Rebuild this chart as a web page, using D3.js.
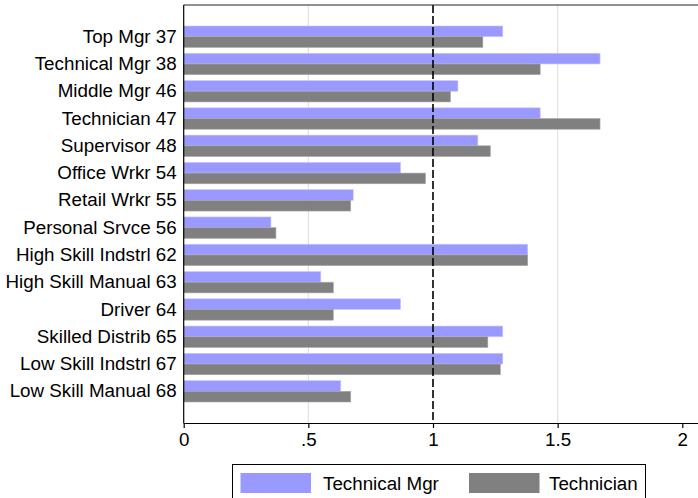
<!DOCTYPE html>
<html>
<head>
<meta charset="utf-8">
<script src="https://cdn.jsdelivr.net/npm/d3@7"></script>
<style>
  html, body { margin: 0; padding: 0; background: #fff; }
  svg { display: block; font-family: "Liberation Sans", Arial, Helvetica, sans-serif; }
</style>
</head>
<body>
<svg id="chart" width="698" height="498"></svg>
<script>
const categories = ["Top Mgr 37","Technical Mgr 38","Middle Mgr 46","Technician 47","Supervisor 48",
  "Office Wrkr 54","Retail Wrkr 55","Personal Srvce 56","High Skill Indstrl 62","High Skill Manual 63",
  "Driver 64","Skilled Distrib 65","Low Skill Indstrl 67","Low Skill Manual 68"];
const seriesNames = ["Technical Mgr", "Technician"];
const technicalMgr = [1.28, 1.67, 1.10, 1.43, 1.18, 0.87, 0.68, 0.35, 1.38, 0.55, 0.87, 1.28, 1.28, 0.63];
const technician   = [1.20, 1.43, 1.07, 1.67, 1.23, 0.97, 0.67, 0.37, 1.38, 0.60, 0.60, 1.22, 1.27, 0.67];
const xTicks = [0, 0.5, 1, 1.5, 2];
const xTickLabels = ["0", ".5", "1", "1.5", "2"];
const gridValues = [0.5, 1.5];
const refValue = 1;
const colors = ["#9999ff", "#808080"];

(function () {
const svg = d3.select("#chart");
const pLeft = 183.7, pRight = 698, pTop = 5, pBottom = 423;
const fs = 18.8;
const x = d3.scaleLinear().domain([0, 1]).range([pLeft, pLeft + 249.3]);
const y = d3.scaleBand().domain(categories).range([pTop, pBottom]).paddingInner(0.216).paddingOuter(0.77);
const ySub = d3.scaleBand().domain(seriesNames).range([0, y.bandwidth()]);

// grid lines
svg.append("g").selectAll("line").data(gridValues).join("line")
  .attr("x1", d => x(d)).attr("x2", d => x(d))
  .attr("y1", pTop).attr("y2", pBottom)
  .attr("stroke", "#e1e1e1").attr("stroke-width", 1.2);

// bars
const data = categories.map((c, i) => ({cat: c, vals: [technicalMgr[i], technician[i]]}));
const g = svg.append("g");
data.forEach(d => {
  seriesNames.forEach((s, j) => {
    g.append("rect")
      .attr("x", x(0))
      .attr("y", y(d.cat) + ySub(s))
      .attr("width", x(d.vals[j]) - x(0))
      .attr("height", ySub.bandwidth())
      .attr("fill", colors[j])
      .attr("stroke", j === 0 ? "#c8c8ff" : "#a8a8a8")
      .attr("stroke-width", 0.6);
  });
});

// reference line
svg.append("line")
  .attr("x1", x(refValue)).attr("x2", x(refValue))
  .attr("y1", pTop).attr("y2", pBottom)
  .attr("stroke", "#000").attr("stroke-width", 1.6)
  .attr("stroke-dasharray", "8,3");

// top border
svg.append("line").attr("x1", pLeft).attr("x2", pRight).attr("y1", pTop).attr("y2", pTop)
  .attr("stroke", "#222").attr("stroke-width", 1.2);

// x axis
const xAxis = d3.axisBottom(x).tickValues(xTicks).tickFormat((d, i) => xTickLabels[i]).tickSize(5).tickSizeOuter(0);
const xg = svg.append("g").attr("transform", `translate(0,${pBottom})`).call(xAxis);
xg.select(".domain").attr("d", `M${pLeft},0.5H${pRight}`).attr("stroke", "#000").attr("stroke-width", 1.2);
xg.selectAll(".tick line").attr("stroke", "#000").attr("stroke-width", 1.2);
xg.selectAll(".tick text").attr("font-size", fs).attr("fill", "#000").attr("dy", "0.78em")
  .style("font-family", "'Liberation Sans', Arial, sans-serif");

// y axis
const yAxis = d3.axisLeft(y).tickSize(0).tickPadding(7);
const yg = svg.append("g").attr("transform", `translate(${pLeft},0)`).call(yAxis);
yg.select(".domain").attr("d", `M0,${pTop}V${pBottom}`).attr("stroke", "#000").attr("stroke-width", 1.2);
yg.selectAll(".tick text").attr("font-size", fs).attr("fill", "#000")
  .style("font-family", "'Liberation Sans', Arial, sans-serif");

// legend
const lg = svg.append("g");
lg.append("rect").attr("x", 232.5).attr("y", 464.5).attr("width", 413).attr("height", 40)
  .attr("fill", "#fff").attr("stroke", "#000").attr("stroke-width", 1);
const legX = [[240.5, 323], [469, 549]];
seriesNames.forEach((s, j) => {
  lg.append("rect").attr("x", legX[j][0]).attr("y", 473).attr("width", 70.5).attr("height", 20)
    .attr("fill", colors[j]);
  lg.append("text").attr("x", legX[j][1]).attr("y", 490).attr("font-size", fs).attr("fill", "#000")
    .text(s);
});
})();
</script>
</body>
</html>
